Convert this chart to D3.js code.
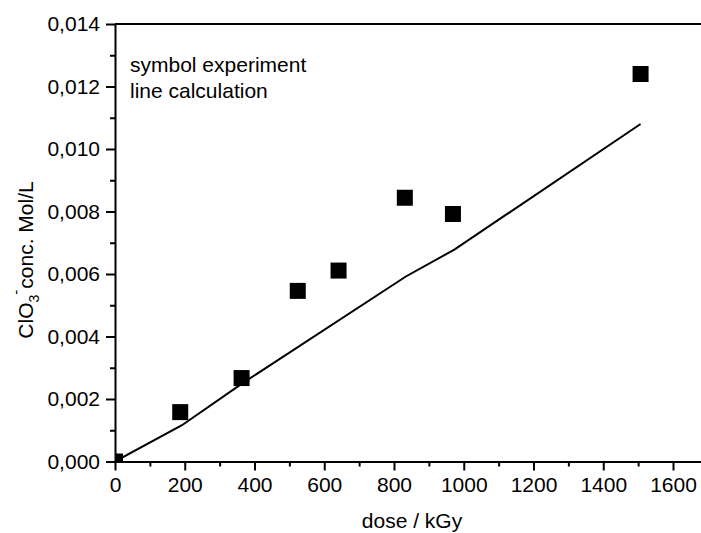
<!DOCTYPE html>
<html>
<head>
<meta charset="utf-8">
<script src="https://cdn.jsdelivr.net/npm/d3@7"></script>
<style>
  html, body { margin: 0; padding: 0; background: #fff; }
  svg { display: block; font-family: "Liberation Sans", Arial, sans-serif; }
</style>
</head>
<body>
<svg id="chart" width="701" height="533"></svg>
<script>
// experiment (symbols)
const expDose = [0, 187, 363, 524, 641, 831, 969, 1507];
const expConc = [0.0, 0.00158, 0.00267, 0.00546, 0.00611, 0.00844, 0.00792, 0.0124];

// calculation (line)
const calcDose = [0, 192, 365, 834, 973, 1507];
const calcConc = [0.0, 0.00116, 0.0025, 0.00592, 0.00678, 0.0108];

const xTicks = [0, 200, 400, 600, 800, 1000, 1200, 1400, 1600];
const yTicks = [0, 0.002, 0.004, 0.006, 0.008, 0.010, 0.012, 0.014];
const legendLines = ['symbol experiment', 'line calculation'];

const svg = d3.select('#chart');
const fontSize = 21;

const x = d3.scaleLinear().domain([0, 1700]).range([115, 115 + 1700 * 0.34875]);
const y = d3.scaleLinear().domain([0, 0.014]).range([461.5, 24]);

const fmt = (d) => d3.format('.3f')(d).replace('.', ',');

// minor ticks
svg.append('g')
  .attr('transform', `translate(0,${y(0)})`)
  .call(d3.axisBottom(x).tickValues(d3.range(100, 1700, 200)).tickSize(5).tickSizeOuter(0).tickFormat(''))
  .call((g) => g.select('.domain').remove());
svg.append('g')
  .attr('transform', `translate(${x(0)},0)`)
  .call(d3.axisLeft(y).tickValues(d3.range(0.001, 0.014, 0.002)).tickSize(5).tickSizeOuter(0).tickFormat(''))
  .call((g) => g.select('.domain').remove());

// major axes
const xAxis = svg.append('g')
  .attr('transform', `translate(0,${y(0)})`)
  .call(d3.axisBottom(x).tickValues(xTicks).tickSize(9).tickPadding(7).tickSizeOuter(0).tickFormat(d3.format('d')));
const yAxis = svg.append('g')
  .attr('transform', `translate(${x(0)},0)`)
  .call(d3.axisLeft(y).tickValues(yTicks).tickSize(9).tickPadding(6).tickSizeOuter(0).tickFormat(fmt));

svg.selectAll('.tick line, .domain').attr('stroke', '#000').attr('stroke-width', 2);
[xAxis, yAxis].forEach((g) => g.selectAll('text')
  .attr('fill', '#000')
  .style('font-size', `${fontSize}px`)
  .style('font-family', '"Liberation Sans", Arial, sans-serif'));

// top frame line
svg.append('line')
  .attr('x1', x(0)).attr('x2', 701)
  .attr('y1', y(0.014)).attr('y2', y(0.014))
  .attr('stroke', '#000').attr('stroke-width', 2);

// clip to plot area
svg.append('clipPath').attr('id', 'plotClip')
  .append('rect')
  .attr('x', x(0)).attr('y', y(0.014))
  .attr('width', 701 - x(0)).attr('height', y(0) - y(0.014));

const plot = svg.append('g').attr('clip-path', 'url(#plotClip)');

const calc = calcDose.map((d, i) => [d, calcConc[i]]);
plot.append('path')
  .datum(calc)
  .attr('fill', 'none')
  .attr('stroke', '#000')
  .attr('stroke-width', 2)
  .attr('d', d3.line().x((d) => x(d[0])).y((d) => y(d[1])));

const sq = 16;
plot.selectAll('rect.pt')
  .data(expDose.map((d, i) => [d, expConc[i]]))
  .join('rect')
  .attr('class', 'pt')
  .attr('x', (d) => x(d[0]) - sq / 2)
  .attr('y', (d) => y(d[1]) - sq / 2)
  .attr('width', sq)
  .attr('height', sq)
  .attr('fill', '#000');

// legend text
svg.append('g')
  .selectAll('text')
  .data(legendLines)
  .join('text')
  .attr('x', 130)
  .attr('y', (_, i) => 72 + i * 26)
  .style('font-size', `${fontSize}px`)
  .text((d) => d);

// x axis title
svg.append('text')
  .attr('x', 412)
  .attr('y', 528)
  .attr('text-anchor', 'middle')
  .style('font-size', `${fontSize}px`)
  .text('dose / kGy');

// y axis title
const yt = svg.append('text')
  .attr('transform', 'translate(33,260) rotate(-90)')
  .attr('text-anchor', 'middle')
  .style('font-size', `${fontSize}px`);
yt.append('tspan').text('ClO');
yt.append('tspan').attr('dy', 6).style('font-size', '14px').text('3');
yt.append('tspan').attr('dx', 0).attr('dy', -18).style('font-size', '15px').text('-');
yt.append('tspan').attr('dx', 1).attr('dy', 12).text('conc. Mol/L');
</script>
</body>
</html>
